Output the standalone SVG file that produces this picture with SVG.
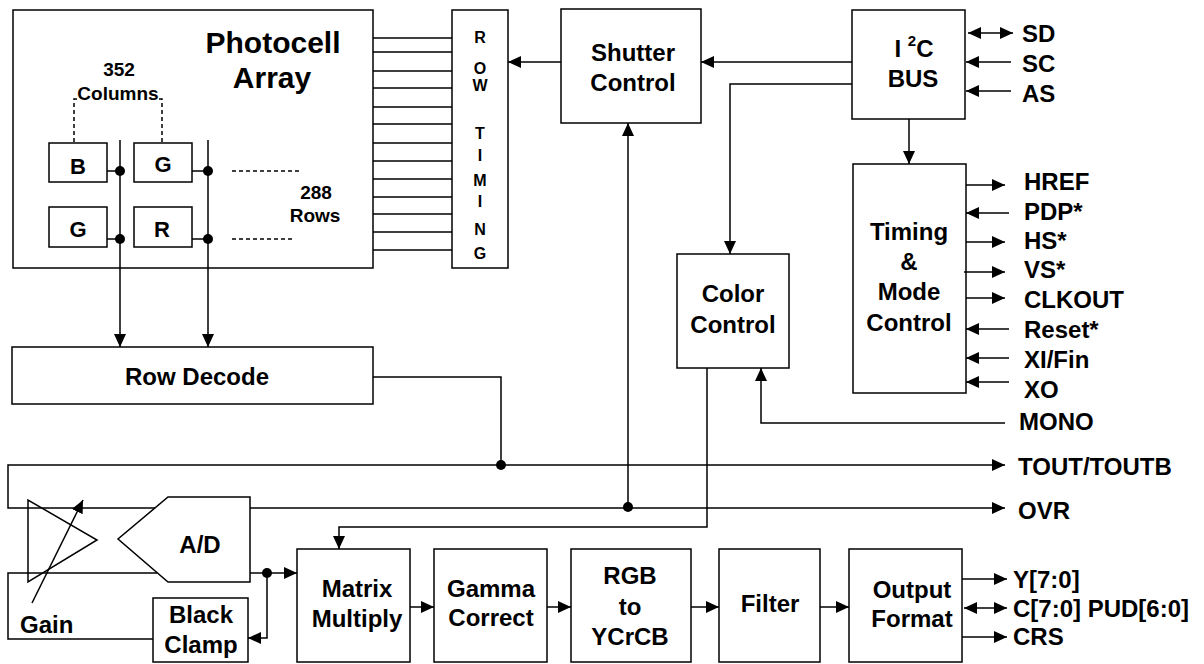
<svg xmlns="http://www.w3.org/2000/svg" width="1204" height="664" viewBox="0 0 1204 664">
<style>
  .box { fill: #fff; stroke: #000; stroke-width: 1.5; }
  .ln { fill: none; stroke: #000; stroke-width: 1.5; }
  .dash { fill: none; stroke: #000; stroke-width: 1.5; stroke-dasharray: 4 3; }
  .a { marker-end: url(#arr); }
  .aa { marker-start: url(#arr); marker-end: url(#arr); }
  text { font-family: "Liberation Sans", Arial, sans-serif; font-weight: bold; fill: #000; }
  .t { font-size: 24px; text-anchor: middle; }
  .p { font-size: 24px; }
  .big { font-size: 30px; text-anchor: middle; }
  .sm { font-size: 19px; text-anchor: middle; }
  .cell { font-size: 22px; text-anchor: middle; }
  .rt { font-size: 16px; text-anchor: middle; }
</style>
<defs>
  <marker id="arr" markerUnits="userSpaceOnUse" markerWidth="14" markerHeight="14" refX="13" refY="7" orient="auto-start-reverse">
    <path d="M0,1 L13,7 L0,13 z" fill="#000"/>
  </marker>
</defs>
<rect width="1204" height="664" fill="#fff"/>

<g id="photocell-array">
  <rect class="box" x="13" y="10" width="360" height="258"/>
  <text class="big" x="273" y="53">Photocell</text>
  <text class="big" x="272" y="88">Array</text>
  <text class="sm" x="119" y="76">352</text>
  <text class="sm" x="118" y="100">Columns</text>
  <text class="sm" x="316" y="199">288</text>
  <text class="sm" x="315" y="222">Rows</text>
</g>
<g id="cell-b">
  <rect class="box" x="49" y="143" width="58" height="39"/>
  <text class="cell" x="78" y="174">B</text>
</g>
<g id="cell-g1">
  <rect class="box" x="134" y="143" width="58" height="39"/>
  <text class="cell" x="163" y="172">G</text>
</g>
<g id="cell-g2">
  <rect class="box" x="49" y="207" width="58" height="40"/>
  <text class="cell" x="78" y="237">G</text>
</g>
<g id="cell-r">
  <rect class="box" x="134" y="207" width="58" height="40"/>
  <text class="cell" x="162" y="237">R</text>
</g>
<g id="row-timing">
  <rect class="box" x="452" y="10" width="56" height="258"/>
  <text class="rt" x="480" y="43">R</text>
  <text class="rt" x="480" y="74">O</text>
  <text class="rt" x="480" y="91">W</text>
  <text class="rt" x="480" y="139">T</text>
  <text class="rt" x="480" y="161">I</text>
  <text class="rt" x="480" y="186">M</text>
  <text class="rt" x="480" y="207">I</text>
  <text class="rt" x="480" y="235">N</text>
  <text class="rt" x="480" y="259">G</text>
</g>
<g id="shutter-control">
  <rect class="box" x="561" y="9" width="140" height="114"/>
  <text class="t" x="633" y="61">Shutter</text>
  <text class="t" x="633" y="91">Control</text>
</g>
<g id="i2c-bus">
  <rect class="box" x="852" y="10" width="113" height="109"/>
  <text class="t" x="914" y="57">I <tspan font-size="15" dy="-11">2</tspan><tspan dy="11">C</tspan></text>
  <text class="t" x="913" y="87">BUS</text>
</g>
<g id="timing-mode-control">
  <rect class="box" x="853" y="164" width="113" height="229"/>
  <text class="t" x="909" y="240">Timing</text>
  <text class="t" x="909" y="270">&amp;</text>
  <text class="t" x="909" y="300">Mode</text>
  <text class="t" x="909" y="331">Control</text>
</g>
<g id="color-control">
  <rect class="box" x="677" y="254" width="112" height="114"/>
  <text class="t" x="733" y="302">Color</text>
  <text class="t" x="733" y="333">Control</text>
</g>
<g id="row-decode">
  <rect class="box" x="12" y="347" width="361" height="57"/>
  <text class="t" x="197" y="385">Row Decode</text>
</g>
<g id="gain-amp">
  <polygon class="ln" points="28,500 28,582 97,540"/>
  <text class="p" x="20" y="633">Gain</text>
</g>
<g id="ad">
  <polygon class="box" points="168,497 250,497 250,582 168,582 118,539"/>
  <text class="t" x="200" y="553">A/D</text>
</g>
<g id="black-clamp">
  <rect class="box" x="153" y="598" width="95" height="64"/>
  <text class="t" x="201" y="623">Black</text>
  <text class="t" x="201" y="653">Clamp</text>
</g>
<g id="matrix-multiply">
  <rect class="box" x="297" y="549" width="113" height="113"/>
  <text class="t" x="357" y="597">Matrix</text>
  <text class="t" x="357" y="627">Multiply</text>
</g>
<g id="gamma-correct">
  <rect class="box" x="434" y="549" width="113" height="113"/>
  <text class="t" x="491" y="597">Gamma</text>
  <text class="t" x="491" y="626">Correct</text>
</g>
<g id="rgb-ycrcb">
  <rect class="box" x="571" y="549" width="120" height="113"/>
  <text class="t" x="630" y="584">RGB</text>
  <text class="t" x="630" y="615">to</text>
  <text class="t" x="630" y="645">YCrCB</text>
</g>
<g id="filter">
  <rect class="box" x="719" y="549" width="101" height="113"/>
  <text class="t" x="770" y="612">Filter</text>
</g>
<g id="output-format">
  <rect class="box" x="849" y="549" width="113" height="113"/>
  <text class="t" x="912" y="598">Output</text>
  <text class="t" x="912" y="627">Format</text>
</g>
<g id="pin-labels">
  <text class="p" x="1022" y="42">SD</text>
  <text class="p" x="1022" y="72">SC</text>
  <text class="p" x="1022" y="102">AS</text>
  <text class="p" x="1024" y="190">HREF</text>
  <text class="p" x="1024" y="220">PDP*</text>
  <text class="p" x="1024" y="249">HS*</text>
  <text class="p" x="1024" y="278">VS*</text>
  <text class="p" x="1024" y="308">CLKOUT</text>
  <text class="p" x="1024" y="338">Reset*</text>
  <text class="p" x="1024" y="368">XI/Fin</text>
  <text class="p" x="1024" y="398">XO</text>
  <text class="p" x="1019" y="430">MONO</text>
  <text class="p" x="1018" y="475">TOUT/TOUTB</text>
  <text class="p" x="1018" y="519">OVR</text>
  <text class="p" x="1013" y="588">Y[7:0]</text>
  <text class="p" x="1013" y="617">C[7:0] PUD[6:0]</text>
  <text class="p" x="1013" y="645">CRS</text>
</g>

<g id="connectors">
  <path class="ln" d="M373,38 H452 M373,52 H452 M373,71 H452 M373,88 H452 M373,107 H452 M373,124 H452 M373,143 H452 M373,161 H452 M373,179 H452 M373,197 H452 M373,214 H452 M373,232 H452 M373,250 H452"/>
  <path class="dash" d="M74,142 V99 H78 M162,142 V99 H158"/>
  <path class="dash" d="M232,171 H300 M232,239 H295"/>
  <path class="ln" d="M107,171 H120 M192,171 H208 M107,239 H120 M192,239 H208"/>
  <path class="ln a" d="M120,140 V347"/>
  <path class="ln a" d="M208,140 V347"/>
  <path class="ln a" d="M561,62 H508"/>
  <path class="ln a" d="M852,62 H701"/>
  <path class="ln a" d="M852,84 H730 V254"/>
  <path class="ln a" d="M909,119 V164"/>
  <path class="ln aa" d="M968,33 H1013"/>
  <path class="ln a" d="M1011,62 H966"/>
  <path class="ln a" d="M1011,91 H966"/>
  <path class="ln a" d="M966,185 H1005"/>
  <path class="ln a" d="M1009,213 H966"/>
  <path class="ln a" d="M966,242 H1005"/>
  <path class="ln a" d="M964,272 H1005"/>
  <path class="ln a" d="M966,298 H1005"/>
  <path class="ln a" d="M1009,329 H966"/>
  <path class="ln a" d="M1009,358 H966"/>
  <path class="ln a" d="M1009,382 H966"/>
  <path class="ln a" d="M1005,423 H761 V368"/>
  <path class="ln a" d="M707,368 V527 H339 V549"/>
  <path class="ln a" d="M628,507 V123"/>
  <path class="ln" d="M373,377 H501 V465"/>
  <path class="ln a" d="M155,508 H8 V465 H1005"/>
  <path class="ln a" d="M250,508 H1005"/>
  <path class="ln" d="M157,573 H8 V639 H153"/>
  <path class="ln a" d="M250,573 H297"/>
  <path class="ln a" d="M267,573 V638 H248"/>
  <path class="ln a" d="M32,603 L83,500"/>
  <path class="ln a" d="M410,607 H434"/>
  <path class="ln a" d="M547,607 H571"/>
  <path class="ln a" d="M691,607 H719"/>
  <path class="ln a" d="M820,607 H849"/>
  <path class="ln a" d="M962,579 H1007"/>
  <path class="ln aa" d="M964,608 H1007"/>
  <path class="ln a" d="M962,637 H1007"/>
  <g fill="#000">
    <circle cx="120" cy="171" r="5"/>
    <circle cx="208" cy="171" r="5"/>
    <circle cx="120" cy="239" r="5"/>
    <circle cx="208" cy="239" r="5"/>
    <circle cx="501" cy="465" r="5"/>
    <circle cx="628" cy="507" r="5"/>
    <circle cx="267" cy="573" r="5"/>
  </g>
</g>
</svg>
